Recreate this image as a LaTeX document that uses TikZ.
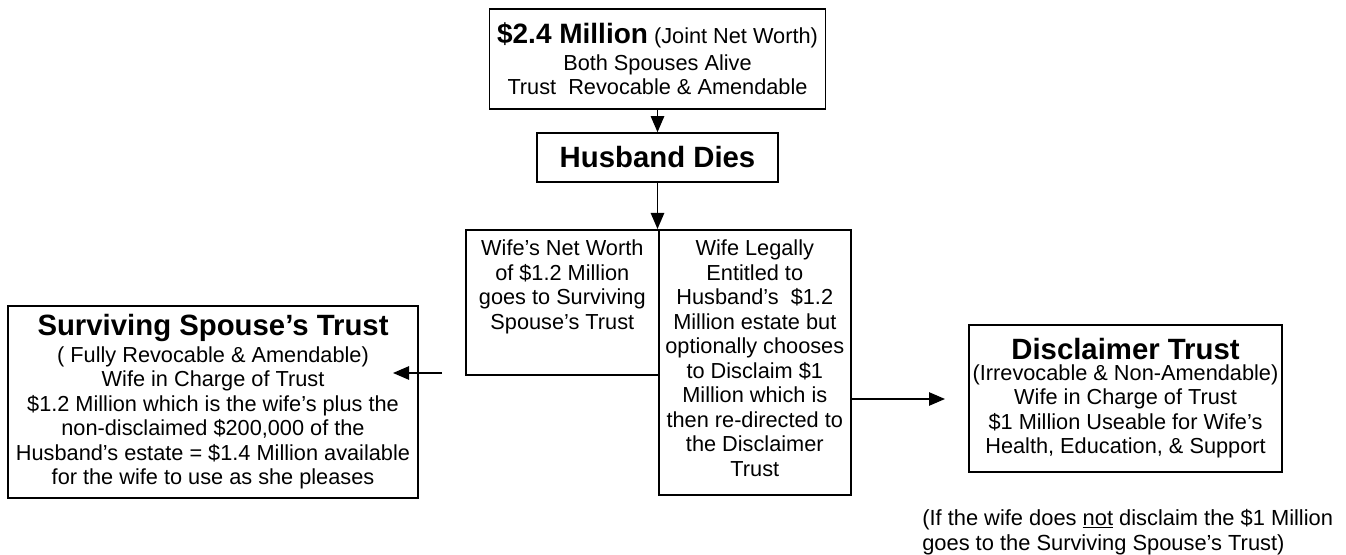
\documentclass[tikz,border=0pt]{standalone}
\usepackage{fontspec}
\setmainfont{Liberation Sans}
\usetikzlibrary{arrows.meta}
\newdimen\px \px=0.75pt
\newcommand{\bodysize}{\fontsize{16.3}{18.4}\selectfont}
\newcommand{\titlesize}{\fontsize{22}{25}\selectfont\bfseries}

\begin{document}
\begin{tikzpicture}[x=0.75pt,y=-0.75pt,
	box/.style={draw, line width=1.2pt, inner sep=0pt, align=center, font=\bodysize},
	arr/.style={line width=1.2pt, -{Triangle[length=12pt,width=10pt]}}]

	\useasboundingbox (0,0) rectangle (1346,555);

	\node[box, minimum width=336\px, minimum height=100\px] (worth) at (657.5,59)
		{{\fontsize{21}{25}\selectfont\bfseries \$2.4 Million} (Joint Net Worth)\\[2\px]
		Both Spouses Alive\\ Trust\ \ Revocable \& Amendable};
	\node[box, minimum width=241\px, minimum height=49\px, font=\titlesize] (dies) at (657.5,157.5) {Husband Dies};

	\node[box, anchor=north west] (wifenet) at (465,229)
		{\parbox[t][145\px][t]{193\px}{\centering\vspace*{10\px}Wife’s Net Worth\\ of \$1.2 Million\\ goes to Surviving\\ Spouse’s Trust}};
	\node[box, anchor=north west] (wifeleg) at (658,229)
		{\parbox[t][265\px][t]{192\px}{\centering\vspace*{10\px}Wife Legally\\ Entitled to\\ Husband’s\ \ \$1.2\\ Million estate but\\ optionally chooses\\ to Disclaim \$1\\ Million which is\\ then re-directed to\\ the Disclaimer\\ Trust}};

	\node[box, minimum width=410\px, minimum height=192\px] (survivor) at (213,402)
		{{\titlesize Surviving Spouse’s Trust}\\[2\px] ( Fully Revocable \& Amendable)\\ Wife in Charge of Trust\\
		\$1.2 Million which is the wife’s plus the\\ non-disclaimed \$200,000 of the\\
		Husband’s estate = \$1.4 Million available\\ for the wife to use as she pleases};
	\node[box, minimum width=313\px, minimum height=147\px] (disclaimer) at (1125.5,398.5)
		{{\titlesize Disclaimer Trust}\\[-4\px] (Irrevocable \& Non-Amendable)\\ Wife in Charge of Trust\\
		\$1 Million Useable for Wife’s\\ Health, Education, \& Support};

	\node[anchor=west, inner sep=0pt, align=left, font=\fontsize{16.4}{18.75}\selectfont] (note) at (922,532)
		{(If the wife does \underline{not} disclaim the \$1 Million\\ goes to the Surviving Spouse’s Trust)};

	\coordinate (lstart) at (442,373);
	\coordinate (lend) at (393,373);
	\coordinate (rend) at (945,399);

	\draw[arr] (worth.south) -- (dies.north);
	\draw[arr] (dies.south) -- (dies.south |- wifeleg.north);
	\draw[arr] (lstart) -- (lend);
	\draw[arr] (wifeleg.east |- rend) -- (rend);

\end{tikzpicture}
\end{document}
